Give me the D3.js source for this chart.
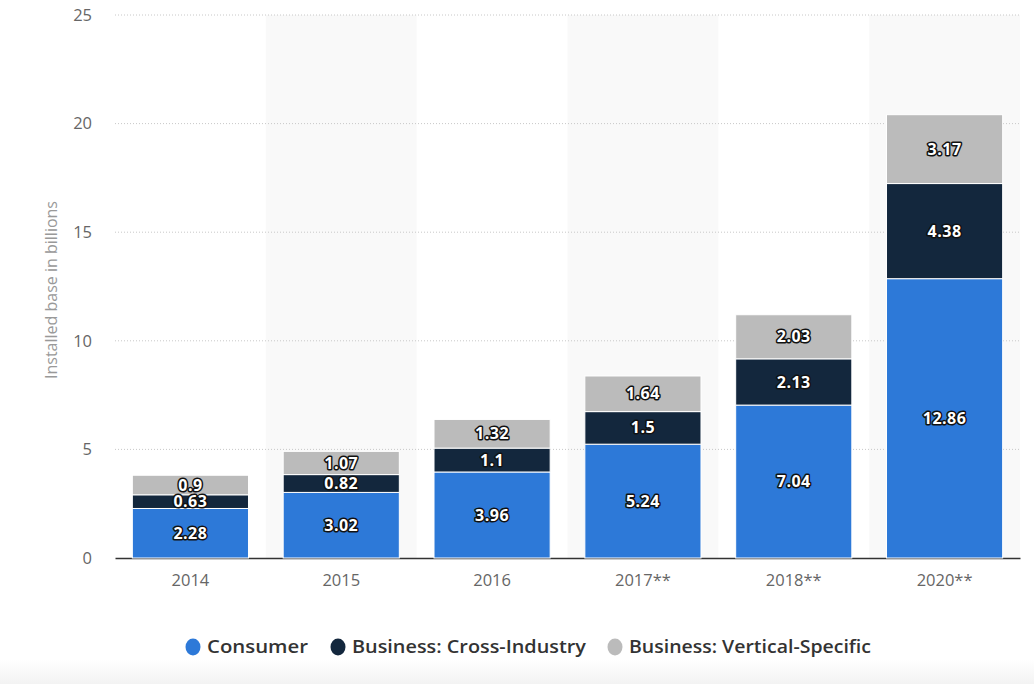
<!DOCTYPE html>
<html><head><meta charset="utf-8">
<script src="https://cdn.jsdelivr.net/npm/d3@7"></script>
<style>body{margin:0;background:#fff;}svg{display:block;}</style>
</head><body>
<svg id="c" width="1034" height="684"></svg>
<script>
const years = ["2014","2015","2016","2017**","2018**","2020**"];
const seriesNames = ["Consumer","Business: Cross-Industry","Business: Vertical-Specific"];
const consumer = [2.28,3.02,3.96,5.24,7.04,12.86];
const crossIndustry = [0.63,0.82,1.1,1.5,2.13,4.38];
const verticalSpecific = [0.9,1.07,1.32,1.64,2.03,3.17];
const yTicks = [0,5,10,15,20,25];
const colors = ["#2d79d8","#13273d","#bbbbbb"];

const svg = d3.select("#c");
const W=1034,H=684;
const m={l:115,r:14,t:15,b:126};
const x = d3.scaleBand().domain(years).range([m.l, W-m.r]).paddingInner(0).paddingOuter(0);
const y = d3.scaleLinear().domain([0,25]).range([H-m.b, m.t]);
const FONT = "'Open Sans', sans-serif";

// footer gradient
const defs = svg.append("defs");
const g1 = defs.append("linearGradient").attr("id","fg").attr("x1",0).attr("y1",0).attr("x2",0).attr("y2",1);
g1.append("stop").attr("offset",0).attr("stop-color","#ffffff");
g1.append("stop").attr("offset",1).attr("stop-color","#f3f3f3");
svg.append("rect").attr("x",0).attr("y",660).attr("width",W).attr("height",24).attr("fill","url(#fg)");

// alternating bands
svg.selectAll("rect.band").data(years.filter((d,i)=>i%2===1)).enter().append("rect")
  .attr("x",d=>x(d)).attr("y",m.t).attr("width",x.bandwidth()).attr("height",y(0)-m.t)
  .attr("fill","#f9f9f9");

// gridlines
svg.selectAll("line.grid").data(yTicks.filter(d=>d>0)).enter().append("line")
  .attr("x1",m.l).attr("x2",W-m.r).attr("y1",d=>y(d)).attr("y2",d=>y(d))
  .attr("stroke","#c8c8c8").attr("stroke-width",1).attr("stroke-dasharray","1,2");

// y axis labels
const yAxis = d3.axisLeft(y).tickValues(yTicks).tickSize(0).tickPadding(23);
const ya = svg.append("g").attr("transform",`translate(${m.l},0)`).call(yAxis);
ya.select(".domain").remove();
ya.selectAll("text").attr("font-family",FONT).attr("font-size",16.5).attr("fill","#666");

// x axis
const xAxis = d3.axisBottom(x).tickSize(0).tickPadding(16);
const xa = svg.append("g").attr("transform",`translate(0,${y(0)})`).call(xAxis);
xa.select(".domain").attr("stroke","#333").attr("stroke-width",1.5);
xa.selectAll("text").attr("font-family",FONT).attr("font-size",16.5).attr("fill","#666");

// y title
svg.append("text").attr("transform",`translate(57,290) rotate(-90)`)
  .attr("text-anchor","middle").attr("font-family",FONT).attr("font-size",16)
  .attr("fill","#999").text("Installed base in billions");

// stacked data
const table = years.map((yr,i)=>({year:yr, s0:consumer[i], s1:crossIndustry[i], s2:verticalSpecific[i]}));
const stack = d3.stack().keys(["s0","s1","s2"])(table);
const bw = x.bandwidth()*0.77;
const off = (x.bandwidth()-bw)/2;

const layers = svg.selectAll("g.layer").data(stack).enter().append("g").attr("fill",(d,i)=>colors[i]);
layers.selectAll("rect").data(d=>d).enter().append("rect")
  .attr("x",d=>x(d.data.year)+off).attr("width",bw)
  .attr("y",d=>y(d[1])).attr("height",d=>y(d[0])-y(d[1]))
  .attr("stroke","#fff").attr("stroke-width",1);

// labels
stack.forEach((layer,li)=>{
  svg.selectAll(null).data(layer).enter().append("text")
    .attr("x",d=>x(d.data.year)+x.bandwidth()/2)
    .attr("y",d=>(y(d[0])+y(d[1]))/2)
    .attr("dy","0.35em").attr("text-anchor","middle")
    .attr("font-family",FONT).attr("font-weight","bold").attr("font-size",16)
    .attr("letter-spacing",0.5)
    .attr("fill","#fff").attr("stroke","#111").attr("stroke-width",3).attr("stroke-linejoin","round")
    .attr("paint-order","stroke")
    .text(d=>String(d.data["s"+li]));
});

// legend
const legendX = [193,338,615];
const legendW = [101,234,242];
const lg = svg.append("g");
seriesNames.forEach((n,i)=>{
  lg.append("ellipse").attr("cx",legendX[i]).attr("cy",647).attr("rx",7.5).attr("ry",8.5).attr("fill",colors[i]);
  lg.append("text").attr("x",legendX[i]+14).attr("y",647).attr("dy","0.35em")
    .attr("font-family",FONT).attr("font-weight",600).attr("font-size",18.5)
    .attr("textLength",legendW[i]).attr("lengthAdjust","spacingAndGlyphs")
    .attr("fill","#333").text(n);
});
</script>
</body></html>
